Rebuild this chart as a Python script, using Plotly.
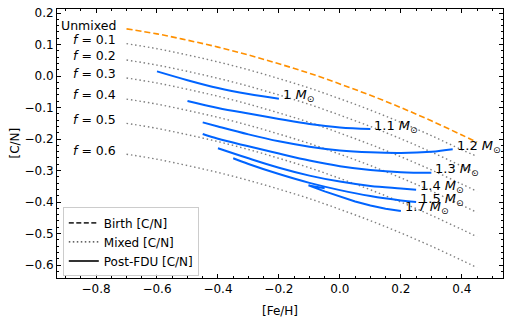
import plotly.graph_objects as go

# [Fe/H] grid for the birth / mixed curves
feh_mix = [-0.7, -0.6, -0.5, -0.4, -0.3, -0.2, -0.1, 0.0, 0.1, 0.2, 0.3, 0.4, 0.45]
cn_birth = [0.150, 0.134, 0.114, 0.092, 0.067, 0.039, 0.009, -0.025, -0.061, -0.100, -0.142, -0.187, -0.210]

mix_labels = ["0.1", "0.2", "0.3", "0.4", "0.5", "0.6"]
cn_f01 = [0.103, 0.087, 0.067, 0.045, 0.020, -0.008, -0.038, -0.072, -0.108, -0.147, -0.189, -0.234, -0.255]
cn_f02 = [0.051, 0.035, 0.015, -0.007, -0.032, -0.060, -0.090, -0.124, -0.160, -0.199, -0.241, -0.286, -0.309]
cn_f03 = [-0.006, -0.022, -0.042, -0.064, -0.089, -0.117, -0.147, -0.181, -0.217, -0.256, -0.298, -0.343, -0.366]
cn_f04 = [-0.073, -0.089, -0.109, -0.131, -0.156, -0.184, -0.214, -0.248, -0.284, -0.323, -0.365, -0.410, -0.433]
cn_f05 = [-0.150, -0.166, -0.186, -0.208, -0.233, -0.261, -0.291, -0.325, -0.361, -0.400, -0.442, -0.487, -0.510]
cn_f06 = [-0.248, -0.264, -0.284, -0.306, -0.331, -0.359, -0.389, -0.423, -0.459, -0.498, -0.540, -0.585, -0.608]
cn_mixed = [cn_f01, cn_f02, cn_f03, cn_f04, cn_f05, cn_f06]
# label heights for the text at the left of each curve
label_y = [0.161, 0.116, 0.065, 0.007, -0.058, -0.139, -0.235]

# post first dredge-up tracks, one per stellar mass
masses = ["1", "1.1", "1.2", "1.3", "1.4", "1.5", "1.7"]
feh_m10 = [-0.6, -0.5, -0.4, -0.3, -0.2]
cn_m10 = [0.015, -0.013, -0.038, -0.057, -0.072]
feh_m11 = [-0.5, -0.4, -0.3, -0.2, -0.1, 0.0, 0.1]
cn_m11 = [-0.079, -0.101, -0.119, -0.136, -0.152, -0.163, -0.168]
feh_m12 = [-0.45, -0.4, -0.3, -0.2, -0.1, 0.0, 0.1, 0.2, 0.3, 0.37]
cn_m12 = [-0.147, -0.160, -0.185, -0.207, -0.224, -0.236, -0.242, -0.244, -0.240, -0.232]
feh_m13 = [-0.45, -0.4, -0.3, -0.2, -0.1, 0.0, 0.1, 0.2, 0.3]
cn_m13 = [-0.184, -0.199, -0.223, -0.246, -0.268, -0.286, -0.298, -0.305, -0.307]
feh_m14 = [-0.4, -0.3, -0.2, -0.1, 0.0, 0.1, 0.2, 0.25]
cn_m14 = [-0.229, -0.261, -0.291, -0.316, -0.335, -0.349, -0.357, -0.361]
feh_m15 = [-0.35, -0.3, -0.2, -0.1, 0.0, 0.1, 0.2, 0.25]
cn_m15 = [-0.261, -0.279, -0.311, -0.339, -0.362, -0.381, -0.395, -0.400]
feh_m17 = [-0.05, -0.103, -0.05, 0.0, 0.05, 0.1, 0.15, 0.2]
cn_m17 = [-0.356, -0.347, -0.366, -0.383, -0.398, -0.411, -0.421, -0.428]
tracks = [(feh_m10, cn_m10), (feh_m11, cn_m11), (feh_m12, cn_m12), (feh_m13, cn_m13),
          (feh_m14, cn_m14), (feh_m15, cn_m15), (feh_m17, cn_m17)]

BLUE = "#0064ff"
ORANGE = "#ff9000"
FONT = "DejaVu Sans"

fig = go.Figure()

fig.add_trace(go.Scatter(x=feh_mix, y=cn_birth, mode="lines", line_shape="spline",
                         line=dict(color=ORANGE, width=1.6, dash="6px,3px"), showlegend=False))
for cn in cn_mixed:
    fig.add_trace(go.Scatter(x=feh_mix, y=cn, mode="lines", line_shape="spline",
                             line=dict(color="gray", width=1.4, dash="1.5px,2.8px"), showlegend=False))

for i, (fx, cy) in enumerate(tracks):
    shape = "linear" if i == len(tracks) - 1 else "spline"
    fig.add_trace(go.Scatter(x=fx, y=cy, mode="lines", line_shape=shape,
                             line=dict(color=BLUE, width=2), showlegend=False))
    fig.add_annotation(x=fx[-1], y=cy[-1], text=f"{masses[i]} <i>M</i><sub>⊙</sub>",
                       showarrow=False, xanchor="left", yanchor="middle", xshift=2, yshift=3,
                       font=dict(size=13, color="black", family=FONT))

# left-hand labels
left_text = ["Unmixed"] + [f"<i>f</i> = {m}" for m in mix_labels]
for t, yy in zip(left_text, label_y):
    fig.add_annotation(x=-0.729, y=yy, text=t, showarrow=False, xanchor="right", yanchor="middle",
                       font=dict(size=12.5, color="black", family=FONT))

# y axis title, placed by hand
fig.add_annotation(x=-0.0964, y=0.5, xref="paper", yref="paper", text="[C/N]", textangle=-90,
                   showarrow=False, xanchor="center", yanchor="middle",
                   font=dict(size=12, color="black", family=FONT))

# legend handles
fig.add_trace(go.Scatter(x=[None], y=[None], mode="lines", name="Birth [C/N]",
                         line=dict(color="#333333", width=1.6, dash="5px,2.5px")))
fig.add_trace(go.Scatter(x=[None], y=[None], mode="lines", name="Mixed [C/N]",
                         line=dict(color="#333333", width=1.4, dash="1.5px,2.5px")))
fig.add_trace(go.Scatter(x=[None], y=[None], mode="lines", name="Post-FDU [C/N]",
                         line=dict(color="#333333", width=2)))

axis_common = dict(showline=True, linecolor="black", linewidth=1, mirror="allticks",
                   ticks="inside", ticklen=4, tickwidth=1, tickcolor="black",
                   showgrid=False, zeroline=False, automargin=False,
                   tickfont=dict(size=12, color="black", family=FONT))

fig.update_xaxes(range=[-0.928, 0.535], dtick=0.2, tick0=0, tickformat=".1f",
                 minor=dict(dtick=0.05, tick0=0, ticks="inside", ticklen=2, tickcolor="black"),
                 title=dict(text="[Fe/H]", font=dict(size=12, color="black", family=FONT), standoff=11),
                 **axis_common)
fig.update_yaxes(range=[-0.641, 0.213], dtick=0.1, tick0=0, tickformat=".1f",
                 minor=dict(dtick=0.02, tick0=0, ticks="inside", ticklen=2, tickcolor="black"),
                 **axis_common)

fig.update_layout(
    width=510, height=321,
    margin=dict(l=57, r=7, t=9, b=43),
    plot_bgcolor="white", paper_bgcolor="white",
    font=dict(family=FONT, size=12, color="black"),
    legend=dict(x=0.013, y=0.006, xanchor="left", yanchor="bottom",
                bgcolor="rgba(255,255,255,0.85)", bordercolor="#cccccc", borderwidth=1,
                font=dict(size=12, family=FONT), tracegroupgap=0, itemwidth=30),
)

# the page body has an 8px default margin; drop it so the figure sits at the corner
fig.write_html("out.html", config={"displayModeBar": False},
               post_script="document.body.style.margin='0px';")
